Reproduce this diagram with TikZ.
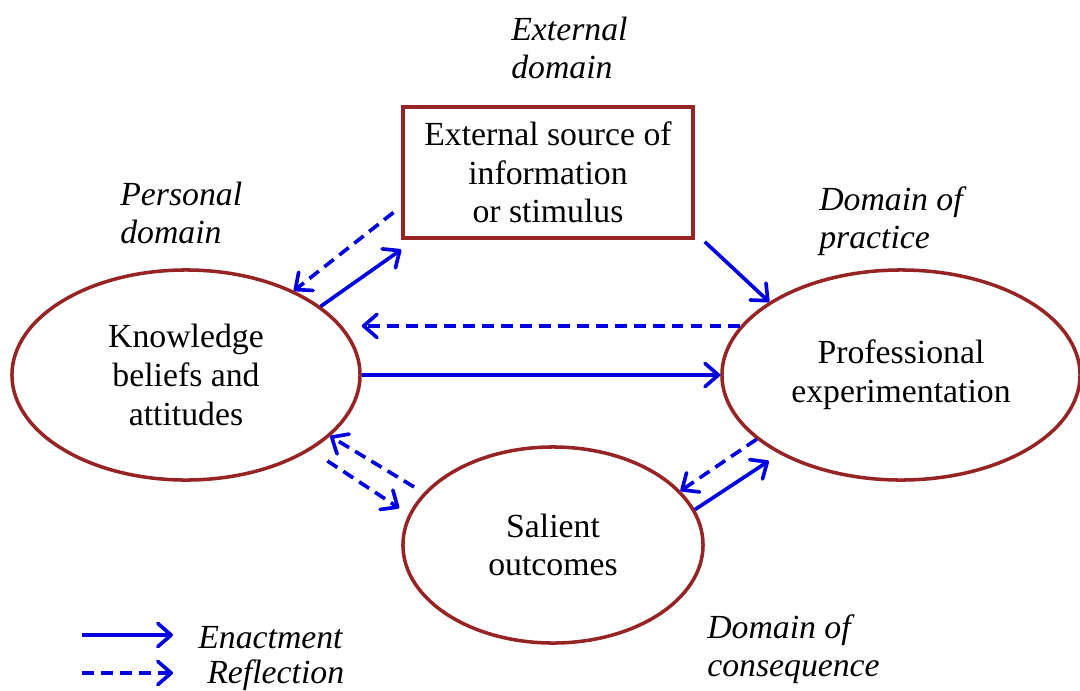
\documentclass[tikz,border=0pt]{standalone}
\usepackage{fontspec}
\setmainfont{Liberation Serif}
\usetikzlibrary{arrows.meta,shapes.geometric}
\definecolor{linkblue}{RGB}{0,0,225}
\definecolor{rimred}{RGB}{150,36,36}
\begin{document}
\begin{tikzpicture}[x=0.025cm,y=-0.025cm,
  every node/.style={font=\fontsize{24}{27.5}\selectfont},
  bubble/.style={ellipse, draw=rimred, line width=2.5pt, inner sep=0pt, align=center},
  srcbox/.style={rectangle, draw=rimred, line width=2.5pt, inner sep=0pt, align=center,
                 minimum width=7.25cm, minimum height=3.275cm},
  domlabel/.style={anchor=base west, align=left, inner sep=0pt,
                 font=\fontsize{24}{26.5}\selectfont\itshape},
  link/.style={draw=linkblue, line width=2.6pt,
               -{Straight Barb[length=9.5pt,width=16.5pt,line cap=round,line join=round]}},
  enact/.style={link},
  refl/.style={link, dash pattern=on 8.5pt off 5pt},
]
% canvas
\fill[white] (0,0) rectangle (1080,691);
\useasboundingbox (0,0) rectangle (1080,691);

% main elements
\node[srcbox] (src) at (548,172.5) {External source of\\information\\or stimulus};
\node[bubble, minimum width=8.7cm, minimum height=5.25cm] (k) at (186,375)
  {Knowledge\\beliefs and\\attitudes};
\node[bubble, minimum width=8.95cm, minimum height=5.25cm] (p) at (901,375)
  {Professional\\experimentation};
\node[bubble, minimum width=7.5cm, minimum height=4.9cm] (s) at (553,545)
  {Salient\\outcomes};

% domain labels (anchored on the baseline of their last line)
\node[domlabel] (extdom) at (511,78) {External\\domain};
\node[domlabel] (perdom) at (120,243) {Personal\\domain};
\node[domlabel] (pradom) at (819,248) {Domain of\\practice};
\node[domlabel] (condom) at (707,676) {Domain of\\consequence};

% connectors
\draw[refl, shorten <=7pt] (src.193) -- (k.38);
\draw[enact] (k.27) -- ([yshift=-7pt]src.south west);
\draw[enact] ([shift={(10,2)}]src.south east) -- (p.151);
\draw[refl] (p.163) -- (p.163 -| k.east);
\draw[enact] (k.east) -- (p.west);
\draw[refl, shorten <=8pt] (s.158) -- (k.337);
\draw[refl, shorten <=14pt, shorten >=8pt] (k.329) -- (s.168);
\draw[refl] (p.204) -- (s.23);
\draw[enact, shorten >=9pt] (s.14) -- (p.213);

% legend
\coordinate (en0) at (82,635);
\coordinate (en1) at (173,635);
\coordinate (re0) at (82,673);
\coordinate (re1) at (173,673);
\draw[enact] (en0) -- (en1);
\draw[refl] (re0) -- (re1);
\node[domlabel] (enlab) at (198,648) {Enactment};
\node[domlabel] (relab) at (207,683) {Reflection};
\end{tikzpicture}
\end{document}
